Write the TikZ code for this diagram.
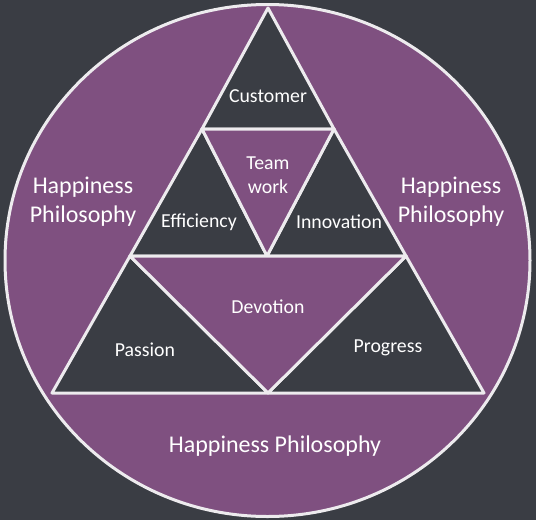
\documentclass[tikz,border=0pt]{standalone}
\usepackage{fontspec}
\setmainfont{Carlito}
\usetikzlibrary{shapes.geometric}
\definecolor{slate}{HTML}{3A3D44}
\definecolor{plum}{HTML}{7F5080}
\definecolor{chalk}{HTML}{EDEBEE}

\begin{document}
\begin{tikzpicture}[
    x=1pt,
    y=-1pt,
    edge/.style={
        draw=chalk,
        line width=3pt,
        line join=round
    },
    darktri/.style={
        edge,
        fill=slate
    },
    plumtri/.style={
        edge,
        fill=plum
    },
    label/.style={
        text=white,
        align=center,
        font=\fontsize{19.8}{24}\selectfont
    },
    biglabel/.style={
        text=white,
        align=center,
        font=\fontsize{24}{29}\selectfont
    }
]

    % --- Background ---
    \fill [slate] (0,0) rectangle (536,520);
    \useasboundingbox (0,0) rectangle (536,520);

    % --- Outer circle ---
    \node [edge, fill=plum, ellipse, minimum width=525pt, minimum height=512pt, inner sep=0pt] (ring) at (267.5,260.5) {};

    % --- Corners of the pyramid ---
    \coordinate (apex) at (268,8);
    \coordinate (botL) at (52,393);
    \coordinate (botR) at (484,393);
    \coordinate (botM) at (268,393);
    % upper row
    \coordinate (upL) at (202,129);
    \coordinate (upR) at (334,129);
    % middle row
    \coordinate (midL) at (130,256);
    \coordinate (midR) at (406,256);
    \coordinate (midM) at (267,256);

    % --- Triangles ---
    \path [darktri] (apex) -- (upL) -- (upR) -- cycle;
    \path [darktri] (upL) -- (midL) -- (midM) -- cycle;
    \path [darktri] (upR) -- (midM) -- (midR) -- cycle;
    \path [darktri] (midL) -- (botL) -- (botM) -- cycle;
    \path [darktri] (midR) -- (botM) -- (botR) -- cycle;
    \path [plumtri] (upL) -- (upR) -- (midM) -- cycle;
    \path [plumtri] (midL) -- (midR) -- (botM) -- cycle;

    % --- Labels ---
    \node [label] (customer) at (268,96) {Customer};
    \node [label] (teamwork) at (268,175) {Team\\work};
    \node [label] (efficiency) at (199,222) {Efficiency};
    \node [label] (innovation) at (339,222) {Innovation};
    \node [label] (devotion) at (268,307) {Devotion};
    \node [label] (passion) at (145,350) {Passion};
    \node [label] (progress) at (388,348) {Progress};

    \node [biglabel] (happyL) at (83,202) {Happiness\\Philosophy};
    \node [biglabel] (happyR) at (451,202) {Happiness\\Philosophy};
    \node [biglabel] (happyB) at (275,446) {Happiness Philosophy};

\end{tikzpicture}
\end{document}
